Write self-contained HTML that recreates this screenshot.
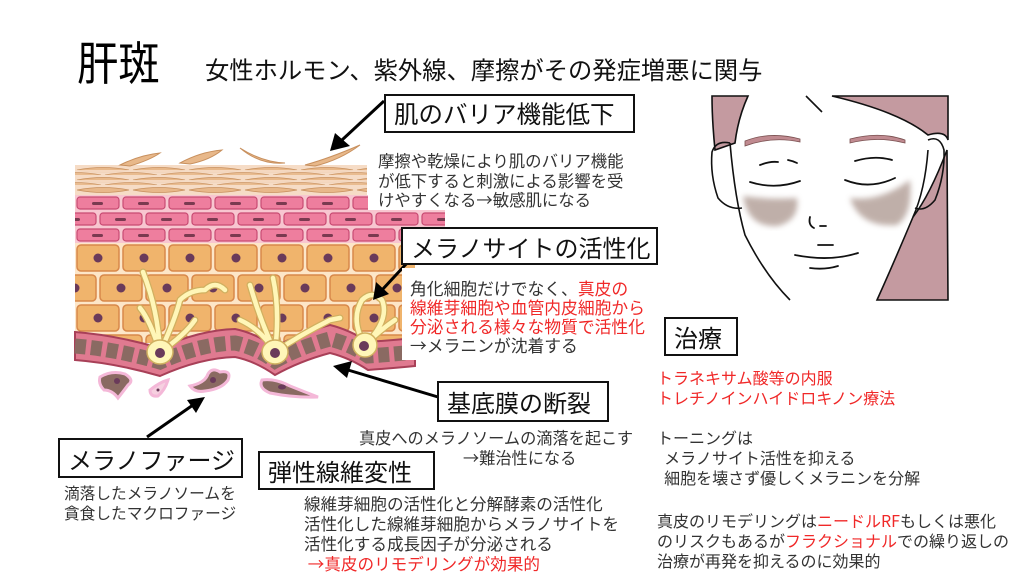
<!DOCTYPE html>
<html><head><meta charset="utf-8">
<style>
html,body{margin:0;padding:0;background:#fff;}
#c{position:relative;width:1024px;height:576px;overflow:hidden;background:#fff;font-family:"Noto Sans CJK JP","Liberation Sans",sans-serif;}
.t{position:absolute;white-space:nowrap;color:#333;}
.box{position:absolute;border:2px solid #111;background:#fff;box-sizing:border-box;font-size:24px;color:#111;white-space:nowrap;display:flex;align-items:center;padding-left:8px;}
.r{color:#f02828;}
svg{position:absolute;left:0;top:0;}
</style></head><body><div id="c">
<svg width="1024" height="576" viewBox="0 0 1024 576">
<defs>
<pattern id="corn" width="56" height="10" patternUnits="userSpaceOnUse" x="75" y="165">
<rect width="56" height="10" fill="#f6dcc6"/>
<path d="M2,5 Q28,0 54,5 Q28,10 2,5Z" fill="#e8b88a" stroke="#c8905e" stroke-width="0.8"/>
</pattern>
<pattern id="corn2" width="56" height="10" patternUnits="userSpaceOnUse" x="103" y="170">
<rect width="56" height="10" fill="#f6dcc6"/>
<path d="M2,5 Q28,0 54,5 Q28,10 2,5Z" fill="#e8b88a" stroke="#c8905e" stroke-width="0.8"/>
</pattern>
<pattern id="pink" width="46" height="32" patternUnits="userSpaceOnUse" x="75" y="195">
<rect width="46" height="32" fill="#f8c6d0"/>
<rect x="2" y="2" width="42" height="12" rx="3" fill="#ee7e9e" stroke="#c84a72" stroke-width="1.2"/>
<rect x="17" y="7" width="11" height="3" rx="1.5" fill="#7a3a50"/>
<rect x="-21" y="18" width="42" height="12" rx="3" fill="#ee7e9e" stroke="#c84a72" stroke-width="1.2"/>
<rect x="25" y="18" width="42" height="12" rx="3" fill="#ee7e9e" stroke="#c84a72" stroke-width="1.2"/>
<rect x="40" y="23" width="11" height="3" rx="1.5" fill="#7a3a50"/>
<rect x="-6" y="23" width="11" height="3" rx="1.5" fill="#7a3a50"/>
</pattern>
<pattern id="org" width="46" height="60" patternUnits="userSpaceOnUse" x="75" y="243">
<rect width="46" height="60" fill="#fde6c8"/>
<rect x="2" y="2" width="42" height="26" rx="4" fill="#f0b46c" stroke="#d8884a" stroke-width="1.5"/>
<circle cx="23" cy="15" r="4.5" fill="#6a3a5a"/>
<rect x="-21" y="32" width="42" height="26" rx="4" fill="#f0b46c" stroke="#d8884a" stroke-width="1.5"/>
<rect x="25" y="32" width="42" height="26" rx="4" fill="#f0b46c" stroke="#d8884a" stroke-width="1.5"/>
<circle cx="0" cy="45" r="4.5" fill="#6a3a5a"/>
<circle cx="46" cy="45" r="4.5" fill="#6a3a5a"/>
</pattern>
<filter id="bl"><feGaussianBlur stdDeviation="3"/></filter>
</defs>

<rect x="75" y="165" width="292" height="30" fill="url(#corn)"/>
<rect x="75" y="170" width="292" height="5" fill="url(#corn2)" opacity="0.9"/>
<rect x="75" y="180" width="292" height="5" fill="url(#corn2)" opacity="0.9"/>
<path d="M120,165 Q140,155 160,153 Q150,160 130,166Z" fill="#e8b88a" stroke="#c8905e"/>
<path d="M180,163 Q200,152 222,150 Q210,160 190,164Z" fill="#e8b88a" stroke="#c8905e"/>
<path d="M240,148 Q262,162 285,163 Q260,165 240,148Z" fill="#e8b88a" stroke="#c8905e"/>
<path d="M305,165 Q330,158 360,145 Q340,160 315,166Z" fill="#e8b88a" stroke="#c8905e"/>
<rect x="75" y="195" width="370" height="48" fill="url(#pink)"/>
<rect x="75" y="243" width="340" height="100" fill="url(#org)"/>
<path d="M75,332 Q115,335 160,348 Q200,330 235,329 Q255,333 275,347 Q300,333 330,325 Q350,330 368,342 Q395,340 415,338 L415,366 Q395,368 368,370 Q350,358 330,353 Q300,361 275,375 Q255,361 235,357 Q200,358 160,376 Q115,363 75,360Z" fill="#e07a90" stroke="#a84058" stroke-width="2"/>
<path d="M75,346 Q115,349 160,362 Q200,344 235,343 Q255,347 275,361 Q300,347 330,339 Q350,344 368,356 Q395,354 415,352" fill="none" stroke="#8a6a62" stroke-width="15" stroke-dasharray="11 5"/>
<g fill="none" stroke-linecap="round" stroke-linejoin="round">
<g stroke="#d0b060" stroke-width="7">
<path d="M160,352 Q150,320 140,308 M160,352 Q158,310 143,272 M160,352 Q175,320 180,300 Q190,290 205,290 Q215,280 225,290 M160,352 Q185,335 195,320"/>
<path d="M275,352 Q260,320 250,285 M275,352 Q280,310 273,278 M275,352 Q300,335 330,320 L340,318 M275,352 Q262,330 240,320"/>
<path d="M365,345 Q350,320 362,300 Q372,290 382,300 Q390,320 365,345 M365,345 Q380,330 395,320"/>
</g>
<g stroke="#fff6b8" stroke-width="4.5">
<path d="M160,352 Q150,320 140,308 M160,352 Q158,310 143,272 M160,352 Q175,320 180,300 Q190,290 205,290 Q215,280 225,290 M160,352 Q185,335 195,320"/>
<path d="M275,352 Q260,320 250,285 M275,352 Q280,310 273,278 M275,352 Q300,335 330,320 L340,318 M275,352 Q262,330 240,320"/>
<path d="M365,345 Q350,320 362,300 Q372,290 382,300 Q390,320 365,345 M365,345 Q380,330 395,320"/>
</g>
</g>
<g fill="#fff6b8" stroke="#d0b060" stroke-width="1.5">
<ellipse cx="160" cy="352" rx="13" ry="12"/><ellipse cx="275" cy="352" rx="13" ry="12"/><ellipse cx="365" cy="345" rx="12" ry="12"/>
</g>
<g fill="#6a3a5a"><circle cx="160" cy="353" r="5"/><circle cx="275" cy="353" r="5"/><circle cx="364" cy="346" r="5"/></g>
<g stroke="#f4b8d8" stroke-width="3" fill="#8a6a62">
<path d="M100,377 Q112,370 125,374 Q135,380 128,385 Q122,393 118,398 Q112,390 104,390 Q98,384 100,377Z"/>
<path d="M150,390 Q160,382 168,380 Q165,390 158,396 Q150,397 150,390Z" fill="#f6d0e0"/>
<path d="M190,386 Q205,383 208,374 Q212,367 220,372 Q232,370 228,380 Q222,389 205,391 Q195,393 190,386Z"/>
<path d="M262,380 Q275,378 290,386 Q305,392 318,397 Q295,398 270,393 Q258,388 262,380Z"/>
</g>
<g fill="#6a3a5a"><circle cx="117" cy="381" r="3"/><circle cx="158" cy="390" r="1.5"/><circle cx="213" cy="380" r="3"/><ellipse cx="282" cy="387" rx="4" ry="2.5"/></g>

<g stroke="#111" stroke-width="1.6" fill="none">
<path d="M712,96 L748,96 Q738,118 735,143 L715,150 Q712,120 712,96Z" fill="#c49aa0"/>
<path d="M832,96 L948,96 L948,140 Q945,130 928,135 Q900,112 832,96Z" fill="#c49aa0"/>
<path d="M913,217 Q930,195 947,150 L948,300 L877,300 Q895,260 913,217Z" fill="#c49aa0"/>
<path d="M730,143 Q716,140 712,152 Q710,175 718,198 Q728,210 742,208"/>
<path d="M928,140 Q940,135 944,150 Q945,175 935,200 Q925,212 915,208"/>
<path d="M730,143 Q735,200 745,235 Q765,275 790,300"/>
<path d="M928,150 Q925,190 913,217"/>
<path d="M806,96 Q815,105 822,112"/>
</g>
<g fill="#c08a90" stroke="#7a5050" stroke-width="0.8">
<path d="M745,141 Q770,131 800,139 L800,142 Q772,136 745,146Z"/>
<path d="M850,139 Q880,131 905,140 L905,143 Q878,136 850,143Z"/>
</g>
<g filter="url(#bl)" fill="#b09c94" opacity="0.8">
<path d="M743,196 Q770,200 797,198 Q800,220 778,226 Q748,228 743,196Z"/>
<path d="M850,198 Q880,202 910,180 Q913,215 897,225 Q860,228 850,198Z"/>
</g>
<g stroke="#111" stroke-width="1.8" fill="none" stroke-linecap="round">
<path d="M750,182 Q775,190 800,181"/><path d="M845,180 Q870,190 895,178"/>
<path d="M760,165 Q770,161 778,162"/><path d="M788,160 Q793,161 797,163"/>
<path d="M855,161 Q875,155 892,160"/>
<path d="M810,217 Q808,225 814,228 M820,226 L826,226"/>
<path d="M818,245 L833,245"/><path d="M795,255 Q830,262 858,253"/><path d="M810,268 Q825,270 838,266"/>
</g>

<g stroke="#000" stroke-width="3" fill="#000">
<line x1="384" y1="101" x2="342" y2="140"/>
<polygon points="330,151 335,133 350,146" stroke="none"/>
<line x1="408" y1="262" x2="382" y2="290"/>
<polygon points="373,300 376,282 389,294" stroke="none"/>
<line x1="438" y1="397" x2="348" y2="370"/>
<polygon points="333,366 352,361 347,378" stroke="none"/>
<line x1="147" y1="437" x2="193" y2="405"/>
<polygon points="205,397 196,413 187,400" stroke="none"/>
</g>
<rect x="368" y="148" width="260" height="62" fill="#fff"/>
<rect x="402" y="268" width="250" height="92" fill="#fff"/>
</svg>

<div class="t" style="left:77px;top:28px;font-size:46px;color:#000;transform:scaleX(0.9);transform-origin:left top;">肝斑</div>
<div class="t" style="left:205px;top:51px;font-size:24.3px;color:#111;">女性ホルモン、紫外線、摩擦がその発症増悪に関与</div>

<div class="box" style="left:384px;top:94px;width:251px;height:39px;font-size:24.5px;">肌のバリア機能低下</div>
<div class="t" style="left:378px;top:151px;font-size:16.4px;line-height:19.5px;">摩擦や乾燥により肌のバリア機能<br>が低下すると刺激による影響を受<br>けやすくなる→敏感肌になる</div>

<div class="box" style="left:401px;top:227px;width:257px;height:38px;">メラノサイトの活性化</div>
<div class="t" style="left:410px;top:279px;font-size:16.8px;line-height:19px;">角化細胞だけでなく、<span class="r">真皮の</span><br><span class="r">線維芽細胞や血管内皮細胞から</span><br><span class="r">分泌される様々な物質で活性化</span><br>→メラニンが沈着する</div>

<div class="box" style="left:664px;top:317px;width:74px;height:39px;">治療</div>
<div class="t r" style="left:657px;top:367px;font-size:16px;line-height:20px;">トラネキサム酸等の内服<br>トレチノインハイドロキノン療法</div>
<div class="t" style="left:657px;top:427px;font-size:16px;line-height:20px;">トーニングは<br>&nbsp;&nbsp;メラノサイト活性を抑える<br>&nbsp;&nbsp;細胞を壊さず優しくメラニンを分解</div>
<div class="t" style="left:657px;top:510px;font-size:16px;line-height:20px;">真皮のリモデリングは<span class="r">ニードルRF</span>もしくは悪化<br>のリスクもあるが<span class="r">フラクショナル</span>での繰り返しの<br>治療が再発を抑えるのに効果的</div>

<div class="box" style="left:437px;top:381px;width:172px;height:41px;">基底膜の断裂</div>
<div class="t" style="left:359px;top:427px;font-size:16.2px;line-height:20px;">真皮へのメラノソームの滴落を起こす</div>
<div class="t" style="left:463px;top:447px;font-size:16.2px;line-height:20px;">→難治性になる</div>

<div class="box" style="left:58px;top:438px;width:185px;height:40px;">メラノファージ</div>
<div class="t" style="left:64px;top:483px;font-size:15.7px;line-height:20px;">滴落したメラノソームを<br>貪食したマクロファージ</div>

<div class="box" style="left:258px;top:451px;width:177px;height:39px;">弾性線維変性</div>
<div class="t" style="left:304px;top:493px;font-size:16.6px;line-height:20px;">線維芽細胞の活性化と分解酵素の活性化<br>活性化した線維芽細胞からメラノサイトを<br>活性化する成長因子が分泌される<br><span class="r">&nbsp;→真皮のリモデリングが効果的</span></div>
</div></body></html>
